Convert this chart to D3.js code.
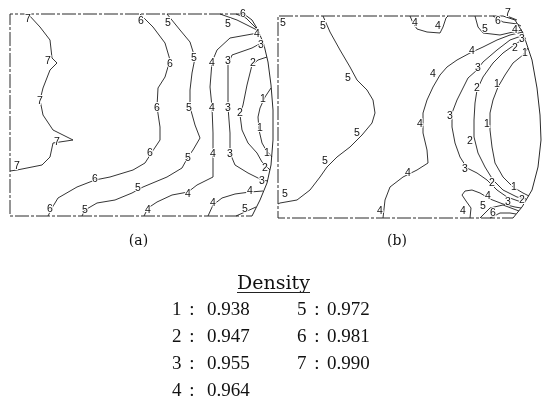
<!DOCTYPE html>
<html>
<head>
<meta charset="utf-8">
<title>Density contours</title>
<style>
	body { margin: 0; background: #fff; }
	svg { display: block; will-change: transform; }
	.edge { fill: none; stroke: #2a2a2a; stroke-width: 1; stroke-dasharray: 14,2,3,2; }
	.arc { fill: none; stroke: #2a2a2a; stroke-width: 1; }
	.iso { fill: none; stroke: #1e1e1e; stroke-width: 0.9; }
	.labs { opacity: 0.999; }
	.lab { font-family: "Liberation Sans", Arial, sans-serif; font-size: 10.5px; fill: #111;
		text-anchor: middle; stroke: #fff; stroke-width: 2px; paint-order: stroke; }
	.cap { font-family: "DejaVu Serif", serif; font-size: 14px; fill: #111; text-anchor: middle; }
	.leg { font-family: "Liberation Serif", "Times New Roman", serif; font-size: 19px; fill: #111; }
</style>
</head>
<body>
<script src="https://cdnjs.cloudflare.com/ajax/libs/d3/7.8.5/d3.min.js"></script>
<script>
// panel (a) -- local units, origin at top left corner of the panel
var edgeA = [[234, 0], [0, 0], [0, 202], [242, 202]];
var arcA = [[234, 0], [242, 6], [248, 16], [254, 31], [258, 48], [261, 71], [263, 96], [263, 126],
	[261, 151], [257, 169], [250, 186], [242, 202]];
var contoursA = [
	[7, [[18, 0], [30, 13], [40, 26], [42, 44], [47, 49], [40, 56], [33, 74], [30, 86], [33, 101], [43, 116],
		[63, 126], [43, 129], [40, 143], [32, 151], [7, 156], [0, 157]]],
	[6, [[130, 0], [143, 13], [155, 29], [160, 46], [155, 63], [148, 74], [147, 93], [150, 113], [150, 126],
		[142, 138], [135, 149], [123, 156], [100, 163], [85, 166], [67, 173], [48, 184], [42, 194], [38, 202]]],
	[5, [[157, 0], [170, 16], [180, 28], [185, 44], [182, 59], [180, 76], [180, 93], [185, 111], [190, 124],
		[183, 136], [178, 143], [172, 154], [157, 163], [133, 173], [122, 179], [105, 186], [87, 189], [75, 196], [72, 202]]],
	[4, [[248, 19], [220, 24], [207, 36], [202, 48], [200, 73], [202, 93], [203, 119], [203, 139], [203, 163],
		[187, 171], [178, 178], [162, 181], [147, 188], [138, 194], [134, 202]]],
	[4, [[198, 202], [203, 191], [212, 184], [225, 180], [240, 178], [253, 177]]],
	[5, [[226, 202], [235, 198], [246, 193]]],
	[3, [[253, 28], [242, 34], [222, 41], [218, 51], [218, 78], [218, 93], [220, 119], [220, 139], [225, 151],
		[238, 159], [252, 166], [258, 167]]],
	[2, [[257, 43], [248, 46], [242, 51], [237, 71], [233, 91], [230, 101], [232, 116], [238, 129], [247, 139],
		[252, 148], [260, 156]]],
	[1, [[261, 74], [255, 83], [250, 94], [248, 103], [249, 116], [252, 129], [256, 136], [262, 143]]],
	[5, [[210, 0], [227, 6], [247, 16]]],
	[6, [[226, 0], [236, 4], [246, 14]]]
];
var labelsA = [
	[7, 18, 4], [7, 38, 46], [7, 30, 86], [7, 47, 127], [7, 7, 151],
	[6, 131, 6], [6, 160, 49], [6, 147, 93], [6, 140, 138], [6, 85, 164], [6, 40, 194], [6, 233, -1],
	[5, 158, 8], [5, 184, 43], [5, 179, 93], [5, 178, 143], [5, 128, 173], [5, 75, 195], [5, 235, 194], [5, 218, 9],
	[4, 202, 48], [4, 202, 93], [4, 203, 139], [4, 178, 179], [4, 138, 195], [4, 203, 188], [4, 240, 176], [4, 247, 19],
	[3, 218, 46], [3, 218, 93], [3, 220, 139], [3, 252, 166], [3, 251, 30],
	[2, 243, 48], [2, 230, 98], [2, 255, 153],
	[1, 253, 84], [1, 250, 113], [1, 257, 138]
];

// panel (b)
var edgeB = [[225, 0], [0, 0], [0, 202], [235, 202]];
var arcB = [[225, 0], [237, 4], [245, 17], [254, 44], [259, 72], [262, 99], [263, 124], [260, 151],
	[254, 174], [244, 191], [235, 202]];
var contoursB = [
	[5, [[45, 0], [52, 16], [62, 34], [72, 51], [79, 64], [89, 74], [95, 84], [97, 97], [94, 107], [84, 119],
		[72, 131], [59, 141], [49, 151], [42, 161], [32, 174], [19, 184], [2, 187], [0, 188]]],
	[4, [[132, 0], [135, 7], [139, 13], [149, 16], [162, 17], [165, 11], [168, 2], [170, 0]]],
	[4, [[245, 16], [232, 19], [219, 24], [205, 31], [192, 37], [179, 44], [169, 51], [162, 59], [155, 71],
		[149, 84], [145, 97], [145, 117], [149, 134], [150, 147], [139, 154], [125, 161], [112, 171], [107, 184], [105, 202]]],
	[3, [[246, 19], [232, 24], [219, 34], [205, 46], [199, 54], [190, 62], [184, 74], [179, 84], [174, 97],
		[174, 111], [177, 127], [182, 141], [189, 152], [199, 157], [209, 164], [219, 174], [229, 181], [246, 187]]],
	[2, [[248, 22], [239, 27], [225, 37], [215, 47], [205, 61], [199, 74], [197, 87], [196, 104], [196, 121],
		[200, 137], [207, 151], [215, 164], [225, 174], [239, 181], [248, 183]]],
	[1, [[250, 32], [245, 39], [235, 47], [227, 59], [220, 71], [215, 84], [212, 97], [212, 114], [214, 131],
		[217, 147], [225, 161], [235, 171], [245, 177], [251, 180]]],
	[5, [[197, 0], [200, 11], [205, 17], [222, 19], [235, 16], [244, 14]]],
	[6, [[215, 0], [225, 6], [239, 8], [243, 10]]],
	[7, [[229, 0], [239, 4]]],
	[4, [[192, 202], [193, 192], [188, 185], [184, 179], [187, 175], [194, 174], [202, 177], [212, 183],
		[225, 188], [237, 191], [243, 192]]],
	[5, [[202, 202], [212, 192], [225, 189], [241, 195]]],
	[6, [[212, 202], [222, 197], [232, 197], [238, 198]]]
];
var labelsB = [
	[5, 5, 6], [5, 45, 9], [5, 70, 61], [5, 79, 116], [5, 47, 144], [5, 7, 177], [5, 207, 12], [5, 205, 189],
	[4, 137, 6], [4, 160, 9], [4, 194, 34], [4, 155, 57], [4, 142, 107], [4, 130, 156], [4, 102, 194],
	[4, 237, 13], [4, 210, 179], [4, 185, 194],
	[3, 244, 22], [3, 200, 51], [3, 172, 99], [3, 187, 152], [3, 230, 185],
	[2, 237, 31], [2, 199, 71], [2, 192, 124], [2, 214, 166], [2, 244, 183],
	[1, 247, 36], [1, 219, 67], [1, 209, 107], [1, 236, 170],
	[6, 220, 4], [6, 215, 196],
	[7, 230, -4]
];

// legend
var levels = [1, 2, 3, 4, 5, 6, 7];
var densities = ["0.938", "0.947", "0.955", "0.964", "0.972", "0.981", "0.990"];
var captions = ["(a)", "(b)"];

var svg = d3.select("body").append("svg")
	.attr("width", 544)
	.attr("height", 407);

var panels = [
	{ x: d3.scaleLinear().domain([0, 263]).range([10, 273]), y: d3.scaleLinear().domain([0, 202]).range([14, 216]),
		edge: edgeA, arc: arcA, lines: contoursA, labels: labelsA },
	{ x: d3.scaleLinear().domain([0, 264]).range([278, 542]), y: d3.scaleLinear().domain([0, 202]).range([16, 218]),
		edge: edgeB, arc: arcB, lines: contoursB, labels: labelsB }
];

panels.forEach(function(p, i) {
	var line = d3.line()
		.x(function(d) { return p.x(d[0]); })
		.y(function(d) { return p.y(d[1]); });
	var g = svg.append("g");

	g.append("path").attr("class", "edge").attr("d", line(p.edge));
	g.append("path").attr("class", "arc").attr("d", line(p.arc));

	g.selectAll(".iso")
		.data(p.lines)
		.enter().append("path")
		.attr("class", "iso")
		.attr("d", function(d) { return line(d[1]); });

	g.append("g").attr("class", "labs")
		.selectAll(".lab")
		.data(p.labels)
		.enter().append("text")
		.attr("class", "lab")
		.attr("x", function(d) { return p.x(d[1]); })
		.attr("y", function(d) { return p.y(d[2]); })
		.attr("dy", "0.36em")
		.text(function(d) { return d[0]; });

	svg.append("text")
		.attr("class", "cap")
		.attr("x", (p.x.range()[0] + p.x.range()[1]) / 2 + (i === 0 ? -3 : -13))
		.attr("y", 245)
		.text(captions[i]);
});

// legend block
svg.append("text")
	.attr("x", 237)
	.attr("y", 289)
	.attr("textLength", 73)
	.attr("lengthAdjust", "spacingAndGlyphs")
	.style("font-family", "'DejaVu Serif', serif")
	.style("font-size", "18px")
	.style("fill", "#111")
	.text("Density");
svg.append("line")
	.attr("x1", 237).attr("x2", 310)
	.attr("y1", 292.5).attr("y2", 292.5)
	.style("stroke", "#222").style("stroke-width", 1);

var rowY = d3.scaleLinear().domain([0, 3]).range([315, 396]);
var colX = [172, 297];
var valueDx = [35, 30];

levels.forEach(function(lv, i) {
	var col = i < 4 ? 0 : 1;
	var row = i < 4 ? i : i - 4;
	var y = rowY(row);
	var x0 = colX[col];
	svg.append("text").attr("class", "leg").attr("x", x0).attr("y", y).text(lv);
	svg.append("text").attr("class", "leg").attr("x", x0 + 20).attr("y", y)
		.attr("text-anchor", "middle").text(":");
	svg.append("text").attr("class", "leg").attr("x", x0 + valueDx[col]).attr("y", y).text(densities[i]);
});
</script>
</body>
</html>
